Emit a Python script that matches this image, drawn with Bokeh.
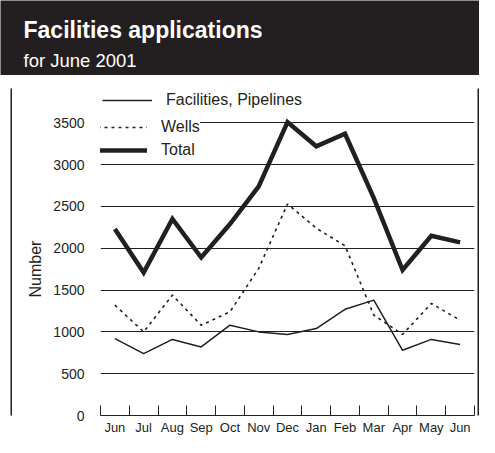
from bokeh.plotting import figure
from bokeh.models import Range1d, FixedTicker, Legend, LegendItem, Label, ColumnDataSource, Title
from bokeh.layouts import column, row
from bokeh.embed import file_html
from bokeh.resources import INLINE

# ---- data ----
months = ["Jun", "Jul", "Aug", "Sep", "Oct", "Nov", "Dec", "Jan", "Feb", "Mar", "Apr", "May", "Jun"]
facilities = [920, 740, 910, 820, 1080, 1000, 970, 1040, 1270, 1380, 780, 910, 850]
wells = [1320, 1000, 1440, 1080, 1240, 1760, 2530, 2240, 2030, 1200, 970, 1340, 1140]
total = [2230, 1710, 2350, 1890, 2290, 2740, 3510, 3220, 3370, 2600, 1740, 2150, 2070]
y_ticks = [0, 500, 1000, 1500, 2000, 2500, 3000, 3500]
series_names = ["Facilities, Pipelines", "Wells", "Total"]
title_text = "Facilities applications"
subtitle_text = "for June 2001"
y_label = "Number"

INK = "#231f20"
FONT = "Liberation Sans"

x_centers = [i + 0.5 for i in range(len(months))]
x_bounds = list(range(len(months) + 1))

# ---- header ----
header = figure(width=479, height=75, x_range=Range1d(0, 479), y_range=Range1d(0, 75),
                x_axis_type=None, y_axis_type=None, min_border=0, toolbar_location=None,
                output_backend="svg", background_fill_color=INK, border_fill_color=INK,
                outline_line_color=None)
header.add_layout(Label(x=23, y=45.5, text=title_text, text_color="white", text_font=FONT,
                        text_font_style="bold", text_font_size="23px", text_baseline="alphabetic"))
header.add_layout(Label(x=23, y=15, text=subtitle_text, text_color="white", text_font=FONT,
                        text_font_style="normal", text_font_size="18.5px", text_baseline="alphabetic"))

# ---- main chart ----
p = figure(width=465, height=362, x_range=Range1d(0, len(months)), y_range=Range1d(0, 3911),
           toolbar_location=None, output_backend="svg",
           min_border_left=88, min_border_right=3, min_border_top=13, min_border_bottom=19,
           outline_line_color=None, background_fill_color="white", border_fill_color="white")

src = ColumnDataSource(dict(x=x_centers, facilities=facilities, wells=wells, total=total))
r_f = p.line("x", "facilities", source=src, line_color=INK, line_width=1.5)
r_w = p.line("x", "wells", source=src, line_color=INK, line_width=1.6, line_dash="3 4")
r_t = p.line("x", "total", source=src, line_color=INK, line_width=4.5, line_join="miter")

# y axis
p.yaxis.ticker = FixedTicker(ticks=y_ticks)
p.yaxis.major_tick_in = 0
p.yaxis.major_tick_out = 0
p.yaxis.minor_tick_line_color = None
p.yaxis.axis_line_color = None
p.yaxis.major_label_standoff = 16
p.yaxis.major_label_text_font = FONT
p.yaxis.major_label_text_font_size = "14px"
p.yaxis.major_label_text_color = INK

p.add_layout(Title(text=y_label, align="left", offset=118, standoff=14,
                   text_font=FONT, text_font_style="normal", text_font_size="16px",
                   text_color=INK), "left")

p.ygrid.ticker = FixedTicker(ticks=y_ticks[1:])
p.ygrid.grid_line_color = INK
p.ygrid.grid_line_width = 1
p.xgrid.visible = False

# x axis
p.xaxis.ticker = FixedTicker(ticks=x_centers, minor_ticks=x_bounds)
p.xaxis.major_tick_in = 0
p.xaxis.major_tick_out = 0
p.xaxis.major_tick_line_color = None
p.xaxis.minor_tick_in = 10
p.xaxis.minor_tick_out = 0
p.xaxis.minor_tick_line_color = INK
p.xaxis.minor_tick_line_width = 1
p.xaxis.axis_line_color = INK
p.xaxis.axis_line_width = 1
p.xaxis.major_label_overrides = {c: m for c, m in zip(x_centers, months)}
p.xaxis.major_label_standoff = 4
p.xaxis.major_label_text_font = FONT
p.xaxis.major_label_text_font_size = "13px"
p.xaxis.major_label_text_color = INK

# legends
common = dict(glyph_width=50, glyph_height=20, label_height=20, label_standoff=14, spacing=3,
              label_text_font=FONT, label_text_font_size="16px", label_text_color=INK,
              border_line_color=None)
leg_a = Legend(items=[LegendItem(label=series_names[0], renderers=[r_f])],
               location=(2, 305), padding=0, background_fill_alpha=0, **common)
leg_b = Legend(items=[LegendItem(label=series_names[1], renderers=[r_w]),
                      LegendItem(label=series_names[2], renderers=[r_t])],
               location=(-3, 255), padding=5, background_fill_color="white",
               background_fill_alpha=1, **common)
p.add_layout(leg_a)
p.add_layout(leg_b)

# side border strips
def strip(w, white_left=0):
    s = figure(width=w, height=362, x_axis_type=None, y_axis_type=None, min_border=0,
               min_border_left=white_left, toolbar_location=None, output_backend="svg",
               background_fill_color=INK, border_fill_color="white", outline_line_color=None)
    return s

layout = column(header, row(strip(12, white_left=10), p, strip(2)))

open("out.html", "w").write(file_html(layout, INLINE))
